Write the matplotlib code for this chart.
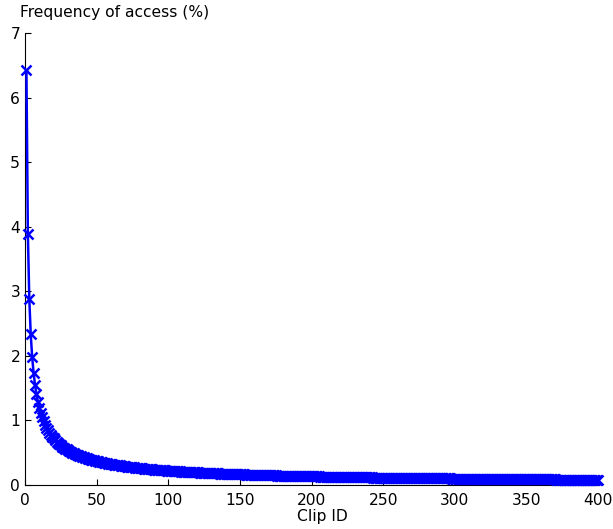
import numpy as np
import matplotlib
matplotlib.use('Agg')
import matplotlib.pyplot as plt

# access frequency (%) per clip, clip 1 .. 400
access_pct = [
    6.420, 3.880, 2.879, 2.334, 1.983, 1.736, 1.551, 1.407, 1.291, 1.196,
    1.115, 1.046, 0.987, 0.935, 0.889, 0.848, 0.811, 0.778, 0.748, 0.721,
    0.696, 0.672, 0.651, 0.631, 0.612, 0.595, 0.579, 0.564, 0.550, 0.536,
    0.523, 0.511, 0.500, 0.489, 0.479, 0.469, 0.460, 0.451, 0.443, 0.435,
    0.427, 0.419, 0.412, 0.405, 0.399, 0.392, 0.386, 0.380, 0.375, 0.369,
    0.364, 0.359, 0.354, 0.349, 0.345, 0.340, 0.336, 0.331, 0.327, 0.323,
    0.319, 0.316, 0.312, 0.308, 0.305, 0.302, 0.298, 0.295, 0.292, 0.289,
    0.286, 0.283, 0.280, 0.277, 0.275, 0.272, 0.269, 0.267, 0.264, 0.262,
    0.260, 0.257, 0.255, 0.253, 0.251, 0.249, 0.246, 0.244, 0.242, 0.240,
    0.239, 0.237, 0.235, 0.233, 0.231, 0.229, 0.228, 0.226, 0.224, 0.223,
    0.221, 0.219, 0.218, 0.216, 0.215, 0.213, 0.212, 0.211, 0.209, 0.208,
    0.206, 0.205, 0.204, 0.202, 0.201, 0.200, 0.198, 0.197, 0.196, 0.195,
    0.194, 0.193, 0.191, 0.190, 0.189, 0.188, 0.187, 0.186, 0.185, 0.184,
    0.183, 0.182, 0.181, 0.180, 0.179, 0.178, 0.177, 0.176, 0.175, 0.174,
    0.173, 0.172, 0.171, 0.171, 0.170, 0.169, 0.168, 0.167, 0.166, 0.166,
    0.165, 0.164, 0.163, 0.162, 0.162, 0.161, 0.160, 0.159, 0.159, 0.158,
    0.157, 0.157, 0.156, 0.155, 0.154, 0.154, 0.153, 0.152, 0.152, 0.151,
    0.150, 0.150, 0.149, 0.149, 0.148, 0.147, 0.147, 0.146, 0.146, 0.145,
    0.144, 0.144, 0.143, 0.143, 0.142, 0.141, 0.141, 0.140, 0.140, 0.139,
    0.139, 0.138, 0.138, 0.137, 0.137, 0.136, 0.136, 0.135, 0.135, 0.134,
    0.134, 0.133, 0.133, 0.132, 0.132, 0.131, 0.131, 0.130, 0.130, 0.130,
    0.129, 0.129, 0.128, 0.128, 0.127, 0.127, 0.126, 0.126, 0.126, 0.125,
    0.125, 0.124, 0.124, 0.124, 0.123, 0.123, 0.122, 0.122, 0.122, 0.121,
    0.121, 0.120, 0.120, 0.120, 0.119, 0.119, 0.119, 0.118, 0.118, 0.117,
    0.117, 0.117, 0.116, 0.116, 0.116, 0.115, 0.115, 0.115, 0.114, 0.114,
    0.114, 0.113, 0.113, 0.113, 0.112, 0.112, 0.112, 0.111, 0.111, 0.111,
    0.111, 0.110, 0.110, 0.110, 0.109, 0.109, 0.109, 0.108, 0.108, 0.108,
    0.108, 0.107, 0.107, 0.107, 0.106, 0.106, 0.106, 0.106, 0.105, 0.105,
    0.105, 0.104, 0.104, 0.104, 0.104, 0.103, 0.103, 0.103, 0.103, 0.102,
    0.102, 0.102, 0.102, 0.101, 0.101, 0.101, 0.101, 0.100, 0.100, 0.100,
    0.100, 0.099, 0.099, 0.099, 0.099, 0.098, 0.098, 0.098, 0.098, 0.097,
    0.097, 0.097, 0.097, 0.097, 0.096, 0.096, 0.096, 0.096, 0.095, 0.095,
    0.095, 0.095, 0.095, 0.094, 0.094, 0.094, 0.094, 0.094, 0.093, 0.093,
    0.093, 0.093, 0.093, 0.092, 0.092, 0.092, 0.092, 0.092, 0.091, 0.091,
    0.091, 0.091, 0.091, 0.090, 0.090, 0.090, 0.090, 0.090, 0.089, 0.089,
    0.089, 0.089, 0.089, 0.088, 0.088, 0.088, 0.088, 0.088, 0.088, 0.087,
    0.087, 0.087, 0.087, 0.087, 0.087, 0.086, 0.086, 0.086, 0.086, 0.086,
    0.085, 0.085, 0.085, 0.085, 0.085, 0.085, 0.084, 0.084, 0.084, 0.084,
    0.084, 0.084, 0.084, 0.083, 0.083, 0.083, 0.083, 0.083, 0.083, 0.082,
    0.082, 0.082, 0.082, 0.082, 0.082, 0.082, 0.081, 0.081, 0.081, 0.081,
]
clip_ids = np.arange(1, len(access_pct) + 1)

x_ticks = [0, 50, 100, 150, 200, 250, 300, 350, 400]
y_ticks = [0, 1, 2, 3, 4, 5, 6, 7]

plt.rcParams['font.family'] = ['DejaVu Sans']
plt.rcParams['font.size'] = 11.2

W, H = 613, 529
fig = plt.figure(figsize=(W / 100, H / 100), dpi=100)
# axes box in pixels: x 25..598, y 33..485 (from top)
ax = fig.add_axes([25 / W, (H - 485) / H, 573 / W, 452 / H])

ax.plot(clip_ids, access_pct, '-x', color='blue', linewidth=1.8,
        markersize=7, markeredgewidth=1.8, clip_on=False, zorder=3)

ax.set_xlim(0, 400)
ax.set_ylim(0, 7)
ax.set_xticks(x_ticks)
ax.set_yticks(y_ticks)

for side in ['top', 'right']:
    ax.spines[side].set_visible(False)
for side in ['left', 'bottom']:
    ax.spines[side].set_linewidth(0.8)
    ax.spines[side].set_color('black')

ax.tick_params(direction='in', length=4, width=0.8, colors='black')
ax.tick_params(axis='x', pad=5.5)
ax.tick_params(axis='y', pad=3.5)

ax.set_xlabel('Clip ID', va='center', ha='center')
ax.xaxis.set_label_coords((322.5 - 25) / 573, (485 - 517) / 452)
ax.set_ylabel('Frequency of access (%)', rotation=0, ha='left', va='center')
ax.yaxis.set_label_coords((20 - 25) / 573, (485 - 12.5) / 452)

fig.savefig('out.png', dpi=100)
